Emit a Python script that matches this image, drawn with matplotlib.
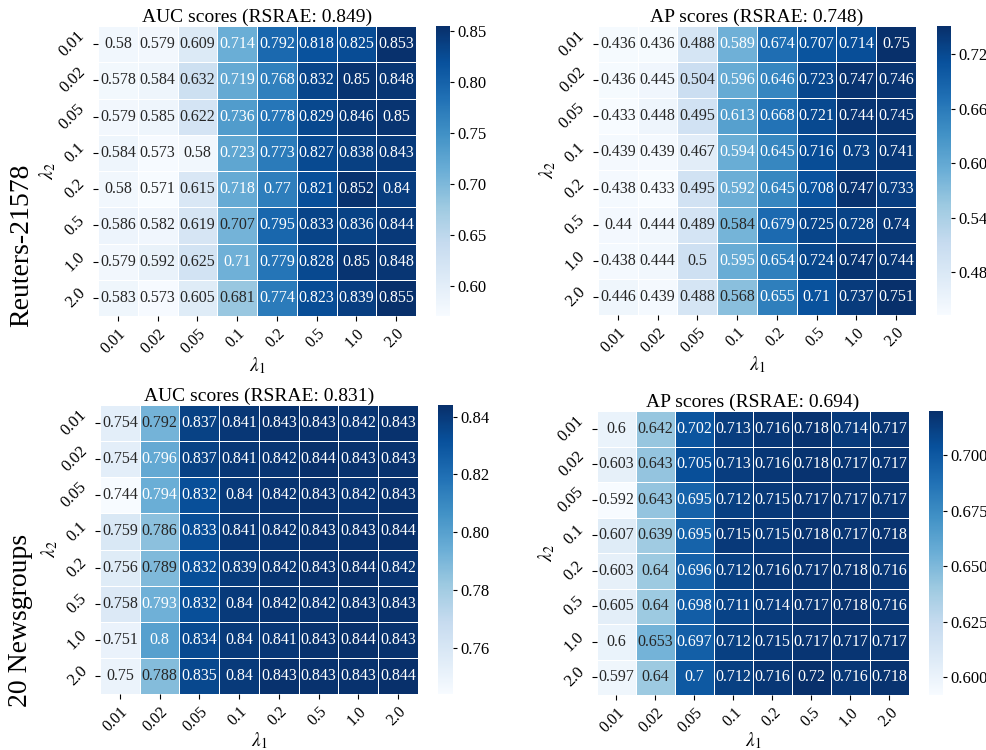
import numpy as np
import matplotlib
matplotlib.use("Agg")
import matplotlib.pyplot as plt
import seaborn as sns

plt.rcParams['font.family'] = ['Liberation Serif', 'DejaVu Serif']
plt.rcParams['mathtext.fontset'] = 'stix'

lam_labels = ["0.01", "0.02", "0.05", "0.1", "0.2", "0.5", "1.0", "2.0"]

reuters_auc = [
    [0.58, 0.579, 0.609, 0.714, 0.792, 0.818, 0.825, 0.853],
    [0.578, 0.584, 0.632, 0.719, 0.768, 0.832, 0.85, 0.848],
    [0.579, 0.585, 0.622, 0.736, 0.778, 0.829, 0.846, 0.85],
    [0.584, 0.573, 0.58, 0.723, 0.773, 0.827, 0.838, 0.843],
    [0.58, 0.571, 0.615, 0.718, 0.77, 0.821, 0.852, 0.84],
    [0.586, 0.582, 0.619, 0.707, 0.795, 0.833, 0.836, 0.844],
    [0.579, 0.592, 0.625, 0.71, 0.779, 0.828, 0.85, 0.848],
    [0.583, 0.573, 0.605, 0.681, 0.774, 0.823, 0.839, 0.855],
]
reuters_ap = [
    [0.436, 0.436, 0.488, 0.589, 0.674, 0.707, 0.714, 0.75],
    [0.436, 0.445, 0.504, 0.596, 0.646, 0.723, 0.747, 0.746],
    [0.433, 0.448, 0.495, 0.613, 0.668, 0.721, 0.744, 0.745],
    [0.439, 0.439, 0.467, 0.594, 0.645, 0.716, 0.73, 0.741],
    [0.438, 0.433, 0.495, 0.592, 0.645, 0.708, 0.747, 0.733],
    [0.44, 0.444, 0.489, 0.584, 0.679, 0.725, 0.728, 0.74],
    [0.438, 0.444, 0.5, 0.595, 0.654, 0.724, 0.747, 0.744],
    [0.446, 0.439, 0.488, 0.568, 0.655, 0.71, 0.737, 0.751],
]
news_auc = [
    [0.754, 0.792, 0.837, 0.841, 0.843, 0.843, 0.842, 0.843],
    [0.754, 0.796, 0.837, 0.841, 0.842, 0.844, 0.843, 0.843],
    [0.744, 0.794, 0.832, 0.84, 0.842, 0.843, 0.842, 0.843],
    [0.759, 0.786, 0.833, 0.841, 0.842, 0.843, 0.843, 0.844],
    [0.756, 0.789, 0.832, 0.839, 0.842, 0.843, 0.844, 0.842],
    [0.758, 0.793, 0.832, 0.84, 0.842, 0.842, 0.843, 0.843],
    [0.751, 0.8, 0.834, 0.84, 0.841, 0.843, 0.844, 0.843],
    [0.75, 0.788, 0.835, 0.84, 0.843, 0.843, 0.843, 0.844],
]
news_ap = [
    [0.6, 0.642, 0.702, 0.713, 0.716, 0.718, 0.714, 0.717],
    [0.603, 0.643, 0.705, 0.713, 0.716, 0.718, 0.717, 0.717],
    [0.592, 0.643, 0.695, 0.712, 0.715, 0.717, 0.717, 0.717],
    [0.607, 0.639, 0.695, 0.715, 0.715, 0.718, 0.717, 0.718],
    [0.603, 0.64, 0.696, 0.712, 0.716, 0.717, 0.718, 0.716],
    [0.605, 0.64, 0.698, 0.711, 0.714, 0.717, 0.718, 0.716],
    [0.6, 0.653, 0.697, 0.712, 0.715, 0.717, 0.717, 0.717],
    [0.597, 0.64, 0.7, 0.712, 0.716, 0.72, 0.716, 0.718],
]

cbar_ticks = [
    [0.60, 0.65, 0.70, 0.75, 0.80, 0.85],
    [0.48, 0.54, 0.60, 0.66, 0.72],
    [0.76, 0.78, 0.80, 0.82, 0.84],
    [0.600, 0.625, 0.650, 0.675, 0.700],
]
cbar_fmt = ["{:.2f}", "{:.2f}", "{:.2f}", "{:.3f}"]

titles = ["AUC scores (RSRAE: 0.849)", "AP scores (RSRAE: 0.748)",
          "AUC scores (RSRAE: 0.831)", "AP scores (RSRAE: 0.694)"]
datasets = ["Reuters-21578", "20 Newsgroups"]

W, H = 987, 750
fig = plt.figure(figsize=(W / 100, H / 100), dpi=100)

# pixel boxes: (x0, y0, x1, y1) for heatmap and colorbar
boxes = [
    ((98, 26, 416, 316), (436, 26, 450, 316)),
    ((598, 26, 916, 315), (937, 26, 951, 315)),
    ((100, 405, 418, 694), (438, 405, 453, 694)),
    ((597, 411, 909, 695), (929, 411, 943, 695)),
]
xlabel_y = [-0.135, -0.135, -0.125, -0.125]

def pbox(b):
    x0, y0, x1, y1 = b
    return [x0 / W, 1 - y1 / H, (x1 - x0) / W, (y1 - y0) / H]

all_data = [reuters_auc, reuters_ap, news_auc, news_ap]
for i, d in enumerate(all_data):
    hb, cb = boxes[i]
    ax = fig.add_axes(pbox(hb))
    cax = fig.add_axes(pbox(cb))
    arr = np.array(d)
    sns.heatmap(arr, ax=ax, cbar_ax=cax, cmap="Blues", annot=True, fmt="g",
                linewidths=0.5, linecolor="white",
                annot_kws={"fontsize": 11.5},
                xticklabels=lam_labels, yticklabels=lam_labels)
    ax.set_title(titles[i], fontsize=14, pad=3)
    ax.set_xticklabels(lam_labels, rotation=45, ha="right", fontsize=11.5,
                       rotation_mode="anchor")
    ax.set_yticklabels(lam_labels, rotation=45, fontsize=12, va="center")
    ax.set_xlabel(r"$\lambda_1$", fontsize=14)
    ax.set_ylabel(r"$\lambda_2$", fontsize=14)
    ax.xaxis.set_label_coords(0.5, xlabel_y[i])
    ax.yaxis.set_label_coords(-0.127, 0.5)
    cax.set_yticks(cbar_ticks[i])
    cax.set_yticklabels([cbar_fmt[i].format(t) for t in cbar_ticks[i]])
    cax.tick_params(labelsize=12, length=3, pad=2)

fig.text(22 / W, 1 - 245 / H, datasets[0], rotation=90, fontsize=20,
         ha="center", va="center")
fig.text(21 / W, 1 - 620 / H, datasets[1], rotation=90, fontsize=20,
         ha="center", va="center")

fig.savefig("out.png", dpi=100)
